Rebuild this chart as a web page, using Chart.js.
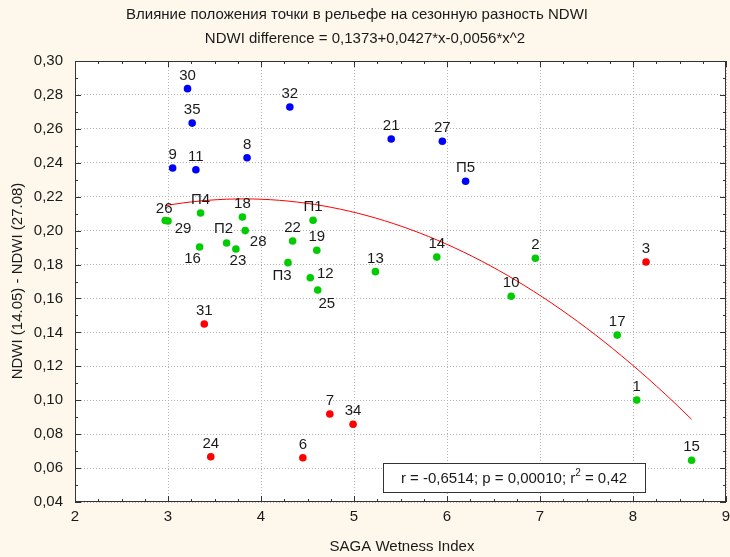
<!DOCTYPE html>
<html>
<head>
<meta charset="utf-8">
<script src="https://cdn.jsdelivr.net/npm/chart.js@4/dist/chart.umd.min.js"></script>
<style>
  html, body { margin: 0; padding: 0; background: #fef8ec; }
  #wrap { width: 730px; height: 557px; }
</style>
</head>
<body>
<div id="wrap"><canvas id="scatter"></canvas></div>
<script>
// point groups: upper (blue), middle (green), lower (red)
var blueIds = ['30', '35', '9', '11', '8', '32', '21', '27', 'П5'];
var blueX = [3.21, 3.26, 3.05, 3.30, 3.85, 4.31, 5.40, 5.95, 6.20];
var blueY = [0.2837, 0.2634, 0.2369, 0.2359, 0.2430, 0.2729, 0.2540, 0.2527, 0.2291];

var greenIds = ['26', '29', 'П4', '16', 'П2', '23', '18', '28', '22', 'П3', 'П1', '19', '12', '25', '13', '14', '2', '10', '17', '1', '15'];
var greenX = [2.97, 3.00, 3.35, 3.34, 3.63, 3.73, 3.80, 3.83, 4.34, 4.29, 4.56, 4.60, 4.53, 4.61, 5.23, 5.89, 6.95, 6.69, 7.83, 8.04, 8.63];
var greenY = [0.2060, 0.2057, 0.2104, 0.1903, 0.1927, 0.1892, 0.2080, 0.2000, 0.1939, 0.1811, 0.2061, 0.1884, 0.1722, 0.1650, 0.1758, 0.1844, 0.1837, 0.1613, 0.1384, 0.1001, 0.0646];

var redIds = ['3', '31', '24', '6', '7', '34'];
var redX = [8.14, 3.39, 3.46, 4.45, 4.74, 4.99];
var redY = [0.1815, 0.1449, 0.0667, 0.0661, 0.0919, 0.0858];

// quadratic fit: b0 + b1*x + b2*x^2
var fitCoef = [0.1373, 0.0427, -0.0056];

var xTicks = [2, 3, 4, 5, 6, 7, 8, 9];
var yTicks = [0.04, 0.06, 0.08, 0.10, 0.12, 0.14, 0.16, 0.18, 0.20, 0.22, 0.24, 0.26, 0.28, 0.30];

var titleLines = ['Влияние положения точки в рельефе на сезонную разность NDWI',
                  'NDWI difference = 0,1373+0,0427*x-0,0056*x^2'];
var statText = ['r = -0,6514; p = 0,00010; r', '2', ' = 0,42'];

// label placement around a point (text centre offset), default is above
var labelShift = {
    '26': [-1, -12], '29': [15, 8], '16': [-7, 12], 'П2': [-3, -14], '23': [2, 12],
    '28': [13, 11], 'П3': [-6, 13], '12': [15, -4], '25': [9, 14]
};

var FONT = '"Liberation Sans", Arial, sans-serif';

function toPoints(xs, ys, ids) {
    var pts = [];
    for (let i = 0; i < xs.length; i++) {
        pts.push({ x: xs[i], y: ys[i], id: ids[i] });
    }
    return pts;
}

function fitCurve() {
    var allX = blueX.concat(greenX, redX);
    var x0 = Math.min.apply(null, allX);
    var x1 = Math.max.apply(null, allX);
    var pts = [];
    var n = 60;
    for (let i = 0; i <= n; i++) {
        let x = x0 + (x1 - x0) * i / n;
        pts.push({ x: x, y: fitCoef[0] + fitCoef[1] * x + fitCoef[2] * x * x });
    }
    return pts;
}

var decorPlugin = {
    id: 'decor',
    beforeDraw: function (chart) {
        var ctx = chart.ctx;
        var a = chart.chartArea;
        ctx.save();
        ctx.fillStyle = '#fef8ec';
        ctx.fillRect(0, 0, chart.width, chart.height);
        ctx.fillStyle = '#ffffff';
        ctx.fillRect(a.left, a.top, a.right - a.left, a.bottom - a.top);
        ctx.restore();
    },
    afterDatasetsDraw: function (chart) {
        var ctx = chart.ctx;
        var a = chart.chartArea;
        var xs = chart.scales.x;
        var ys = chart.scales.y;
        ctx.save();

        // point labels
        ctx.font = '15px ' + FONT;
        ctx.fillStyle = '#1a1a1a';
        ctx.textAlign = 'center';
        ctx.textBaseline = 'middle';
        for (let d = 0; d < 3; d++) {
            let meta = chart.getDatasetMeta(d);
            let data = chart.data.datasets[d].data;
            for (let i = 0; i < data.length; i++) {
                let el = meta.data[i];
                let sh = labelShift[data[i].id] || [0, -13];
                ctx.fillText(data[i].id, el.x + sh[0], el.y + sh[1]);
            }
        }

        // frame
        ctx.strokeStyle = '#333333';
        ctx.lineWidth = 1;
        ctx.strokeRect(a.left + 0.5, a.top + 0.5, a.right - a.left - 1, a.bottom - a.top - 1);

        // inward ticks on all four sides
        ctx.beginPath();
        for (let v = xs.min; v <= xs.max + 1e-9; v += 0.25) {
            let px = Math.round(xs.getPixelForValue(v)) + 0.5;
            let len = Math.abs(v - Math.round(v)) < 1e-6 ? 6 : 3;
            ctx.moveTo(px, a.bottom); ctx.lineTo(px, a.bottom - len);
            ctx.moveTo(px, a.top); ctx.lineTo(px, a.top + len);
        }
        for (let k = 0; k <= Math.round((ys.max - ys.min) / 0.01); k++) {
            let py = Math.round(ys.getPixelForValue(ys.min + k * 0.01)) + 0.5;
            let len = k % 2 === 0 ? 6 : 3;
            ctx.moveTo(a.left, py); ctx.lineTo(a.left + len, py);
            ctx.moveTo(a.right, py); ctx.lineTo(a.right - len, py);
        }
        ctx.stroke();

        // statistics box
        ctx.font = '15px ' + FONT;
        var w0 = ctx.measureText(statText[0]).width;
        ctx.font = '10px ' + FONT;
        var w1 = ctx.measureText(statText[1]).width;
        ctx.font = '15px ' + FONT;
        var w2 = ctx.measureText(statText[2]).width;
        var bx = 383, by = 463, bw = 262, bh = 29;
        ctx.fillStyle = '#ffffff';
        ctx.fillRect(bx, by, bw, bh);
        ctx.strokeStyle = '#333333';
        ctx.strokeRect(bx + 0.5, by + 0.5, bw, bh);
        ctx.fillStyle = '#1a1a1a';
        ctx.textAlign = 'left';
        ctx.textBaseline = 'alphabetic';
        var tx = bx + (bw - (w0 + w1 + w2)) / 2;
        ctx.fillText(statText[0], tx, by + 20);
        ctx.font = '10px ' + FONT;
        ctx.fillText(statText[1], tx + w0, by + 13);
        ctx.font = '15px ' + FONT;
        ctx.fillText(statText[2], tx + w0 + w1, by + 20);

        // titles
        ctx.textAlign = 'center';
        ctx.textBaseline = 'middle';
        ctx.font = '15px ' + FONT;
        ctx.fillStyle = '#1a1a1a';
        ctx.fillText(titleLines[0], 357, 15);
        ctx.fillText(titleLines[1], 365, 39);

        // axis titles
        ctx.font = '15px ' + FONT;
        ctx.fillText('SAGA Wetness Index', 402, 547);
        ctx.translate(18, 281);
        ctx.rotate(-Math.PI / 2);
        ctx.fillText('NDWI (14.05) - NDWI (27.08)', 0, 0);
        ctx.restore();
    }
};

var ctx = document.getElementById('scatter').getContext('2d');
var chart = new Chart(ctx, {
    type: 'scatter',
    data: {
        datasets: [
            { data: toPoints(blueX, blueY, blueIds), backgroundColor: '#0000ff', borderWidth: 0, pointRadius: 3.8, order: 1 },
            { data: toPoints(greenX, greenY, greenIds), backgroundColor: '#00cc00', borderWidth: 0, pointRadius: 3.8, order: 1 },
            { data: toPoints(redX, redY, redIds), backgroundColor: '#ff0000', borderWidth: 0, pointRadius: 3.8, order: 1 },
            { type: 'line', data: fitCurve(), borderColor: '#ff0000', borderWidth: 1, pointRadius: 0, fill: false, tension: 0, order: 2 }
        ]
    },
    options: {
        responsive: true,
        maintainAspectRatio: false,
        animation: false,
        events: [],
        layout: { padding: { top: 61, right: 2, left: 0, bottom: 0 } },
        plugins: { legend: { display: false }, tooltip: { enabled: false } },
        scales: {
            x: {
                type: 'linear', min: 2, max: 9,
                afterFit: function (s) { s.height = 55; s.paddingLeft = 0; s.paddingRight = 0; },
                afterBuildTicks: function (s) { s.ticks = xTicks.map(v => ({ value: v })); },
                ticks: { font: { family: FONT, size: 15 }, color: '#1a1a1a', padding: 6, maxRotation: 0, autoSkip: false },
                grid: { color: '#b4b4b4', lineWidth: 1, drawTicks: false },
                border: { display: false, dash: [1, 2] }
            },
            y: {
                type: 'linear', min: 0.04, max: 0.30,
                afterFit: function (s) { s.width = 75; s.paddingTop = 0; s.paddingBottom = 0; },
                afterBuildTicks: function (s) { s.ticks = yTicks.map(v => ({ value: v })); },
                ticks: {
                    font: { family: FONT, size: 15 }, color: '#1a1a1a', padding: 12, autoSkip: false,
                    callback: function (v) { return v.toFixed(2).replace('.', ','); }
                },
                grid: { color: '#b4b4b4', lineWidth: 1, drawTicks: false },
                border: { display: false, dash: [1, 2] }
            }
        }
    },
    plugins: [decorPlugin]
});
</script>
</body>
</html>
